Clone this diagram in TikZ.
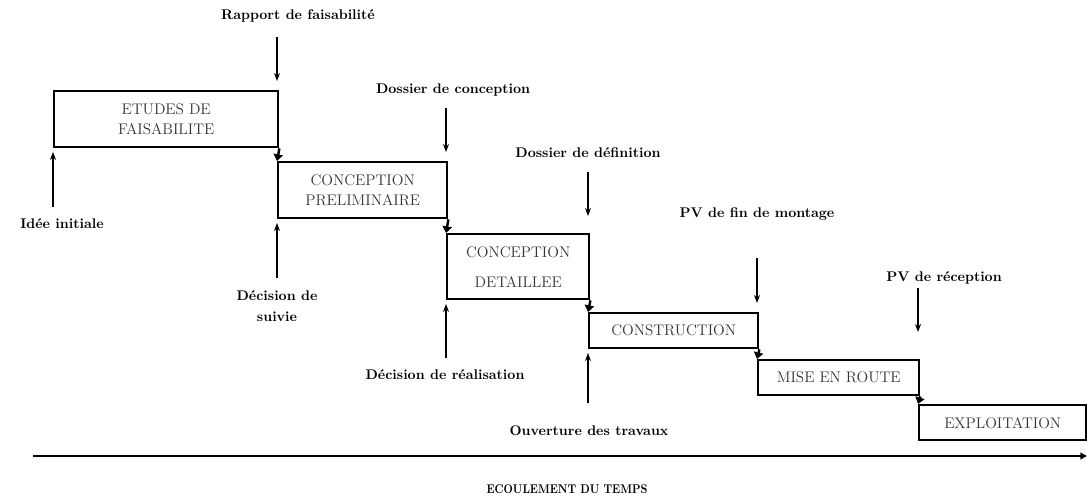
\documentclass[tikz,border=0pt]{standalone}
\usetikzlibrary{arrows.meta}
\begin{document}
\begin{tikzpicture}[x=0.75pt,y=-0.75pt,
  phase/.style={draw,line width=1.8pt,anchor=north west,inner sep=0pt,align=center,
    text=black!80,font=\fontsize{11.5}{15}\selectfont},
  lab/.style={font=\bfseries\fontsize{10.5}{15.5}\selectfont,align=center},
  ev/.style={-{Stealth[length=6pt,width=4.5pt]},line width=0.8pt},
  flow/.style={-{Triangle[length=5pt,width=7pt]},line width=1.8pt},
  axis/.style={-{Triangle[length=5pt,width=5pt]},line width=1.4pt}]
\useasboundingbox (0,0) rectangle (1087,503);

% phases
\node[phase,minimum width=224*0.75pt,minimum height=56*0.75pt] (b1) at (53,90) {ETUDES DE\\FAISABILITE};
\node[phase,minimum width=169*0.75pt,minimum height=56*0.75pt] (b2) at (277,161) {CONCEPTION\\PRELIMINAIRE};
\node[phase,minimum width=142*0.75pt,minimum height=65*0.75pt,font=\fontsize{11.5}{22.5}\selectfont] (b3) at (446,233) {CONCEPTION\\DETAILLEE};
\node[phase,minimum width=169*0.75pt,minimum height=35*0.75pt] (b4) at (588,312) {CONSTRUCTION};
\node[phase,minimum width=161*0.75pt,minimum height=35*0.75pt] (b5) at (757,359) {MISE EN ROUTE};
\node[phase,minimum width=167*0.75pt,minimum height=35*0.75pt] (b6) at (918,404) {EXPLOITATION};

% flow between phases
\draw[flow] (b1.south east) -- (b2.north west);
\draw[flow] (b2.south east) -- (b3.north west);
\draw[flow] (b3.south east) -- (b4.north west);
\draw[flow] (b4.south east) -- (b5.north west);
\draw[flow] (b5.south east) -- (b6.north west);

% deliverables (top)
\node[lab] (l1) at (298,16) {Rapport de faisabilité};
\node[lab] (l2) at (453,90) {Dossier de conception};
\node[lab] (l3) at (588,153) {Dossier de définition};
\node[lab] (l4) at (757,214) {PV de fin de montage};
\node[lab] (l5) at (944,278) {PV de réception};
\coordinate (a1s) at (277,37);  \coordinate (a1e) at (277,81);
\coordinate (a2s) at (446,108); \coordinate (a2e) at (446,152);
\coordinate (a3s) at (588,172); \coordinate (a3e) at (588,216);
\coordinate (a4s) at (757,258); \coordinate (a4e) at (757,303);
\coordinate (a5s) at (918,288); \coordinate (a5e) at (918,332);
\draw[ev] (a1s) -- (a1e);
\draw[ev] (a2s) -- (a2e);
\draw[ev] (a3s) -- (a3e);
\draw[ev] (a4s) -- (a4e);
\draw[ev] (a5s) -- (a5e);

% decisions (bottom)
\node[lab] (d1) at (62,224) {Idée initiale};
\node[lab] (d2) at (277,306) {Décision de\\suivie};
\node[lab] (d3) at (445,375) {Décision de réalisation};
\node[lab] (d4) at (589,431) {Ouverture des travaux};
\coordinate (c1s) at (53,207);  \coordinate (c1e) at (53,152);
\coordinate (c2s) at (277,278); \coordinate (c2e) at (277,223);
\coordinate (c3s) at (446,358); \coordinate (c3e) at (446,304);
\coordinate (c4s) at (588,403); \coordinate (c4e) at (588,353);
\draw[ev] (c1s) -- (c1e);
\draw[ev] (c2s) -- (c2e);
\draw[ev] (c3s) -- (c3e);
\draw[ev] (c4s) -- (c4e);

% time axis
\coordinate (t0) at (33,456);
\coordinate (t1) at (1087,456);
\draw[axis] (t0) -- (t1);
\node[font=\bfseries\fontsize{9.5}{11}\selectfont,xscale=0.85,transform shape] (tl) at (567,489) {ECOULEMENT DU TEMPS};
\end{tikzpicture}
\end{document}
